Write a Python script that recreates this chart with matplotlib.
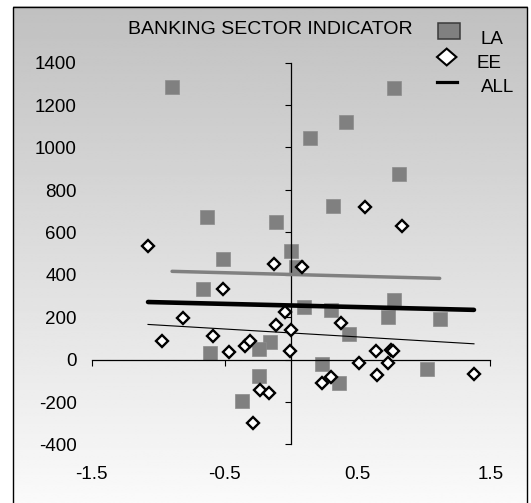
import numpy as np
import matplotlib
matplotlib.use("Agg")
import matplotlib.pyplot as plt
from matplotlib.patches import Rectangle, Polygon
from matplotlib.lines import Line2D
from matplotlib.transforms import blended_transform_factory, ScaledTranslation

# ---- data -------------------------------------------------------------
la_x = [-0.895, 0.775, 0.412, 0.141, 0.813, 0.316, -0.629, -0.115, 0.000,
        -0.512, 0.035, -0.664, 0.775, 0.096, 0.304, 0.733, 1.119, 0.439,
        -0.155, -0.243, -0.606, 0.231, 1.021, -0.241, 0.359, -0.371]
la_y = [1285, 1281, 1118, 1046, 873, 722, 670, 648, 513,
        474, 437, 331, 280, 246, 233, 202, 189, 119,
        81, 49, 29, -20, -46, -76, -111, -196]

ee_x = [-1.076, -0.125, -0.514, -0.810, -0.042, -0.971, -0.589, -0.115, 0.003,
        -0.469, -0.343, -0.309, -0.010, -0.236, -0.168, -0.286, 0.086, 0.555,
        0.835, 0.374, 0.640, 0.750, 0.768, 0.512, 0.730, 0.647, 0.299, 0.233,
        1.377]
ee_y = [535, 449, 332, 194, 224, 86, 112, 161, 141,
        35, 64, 89, 40, -144, -160, -301, 435, 721,
        628, 172, 39, 45, 40, -18, -18, -73, -81, -112,
        -67]

x_ticks = [-1.5, -0.5, 0.5, 1.5]
x_tick_labels = ["-1.5", "-0.5", "0.5", "1.5"]
y_ticks = list(range(-400, 1401, 200))
y_tick_labels = [str(v) for v in y_ticks]
title = "BANKING SECTOR INDICATOR"
series_names = ["LA", "EE", "ALL"]

# ---- style ------------------------------------------------------------
plt.rcParams['font.family'] = ['Liberation Sans', 'DejaVu Sans']
FS = 13.5
LA_GRAY = '#808080'

W, H, DPI = 531, 503, 100
fig = plt.figure(figsize=(W / DPI, H / DPI), dpi=DPI)

# chart area: vertical grey-to-white gradient with a thin frame (pixel coords)
bg = fig.add_axes([0, 0, 1, 1], zorder=0)
grad = np.linspace(0.755, 0.985, 256).reshape(-1, 1)
bg.imshow(grad, cmap='gray', vmin=0, vmax=1, aspect='auto',
          interpolation='bilinear', extent=(12.5, 527, 512, 6.7))
bg.add_patch(Rectangle((12.5, 6.7), 514.5, 505, fill=False, ec='black', lw=1.0))
bg.set_xlim(0, W)
bg.set_ylim(H, 0)
bg.axis('off')

# plot area
L, R, T, B = 91.7, 490.3, 62.7, 444.3
ax = fig.add_axes([L / W, 1 - B / H, (R - L) / W, (B - T) / H], zorder=1)
ax.patch.set_alpha(0)
ax.set_xlim(-1.5, 1.5)
ax.set_ylim(-400, 1400)
for s in ('top', 'right'):
    ax.spines[s].set_visible(False)
ax.spines['left'].set_position(('data', 0))
ax.spines['bottom'].set_position(('data', 0))
for s in ('left', 'bottom'):
    ax.spines[s].set_linewidth(0.9)
ax.set_xticks(x_ticks)
ax.set_yticks(y_ticks)
ax.tick_params(direction='out', length=4.3, width=0.8,
               labelbottom=False, labelleft=False)

# tick labels sit at the outer edges of the plot area
ytrans = blended_transform_factory(fig.transFigure, ax.transData) + \
    ScaledTranslation(0, -6.7 / DPI, fig.dpi_scale_trans)
for v, lab in zip(y_ticks, y_tick_labels):
    fig.text(76.7 / W, v, lab, transform=ytrans, ha='right', va='baseline',
             fontsize=FS)
xtrans = blended_transform_factory(ax.transData, fig.transFigure)
for v, lab in zip(x_ticks, x_tick_labels):
    fig.text(v, 1 - 479.4 / H, lab, transform=xtrans, ha='center',
             va='baseline', fontsize=FS)

# scatter series
ax.plot(la_x, la_y, ls='none', marker='s', ms=10, mfc=LA_GRAY, mec='#8c8c8c',
        mew=0.5, zorder=2, clip_on=False)
ax.plot(ee_x, ee_y, ls='none', marker='D', ms=6.3, mfc='white', mec='black',
        mew=1.7, zorder=4, clip_on=False)

# linear trend lines over each series' x range
def trend(xs, ys):
    xs = np.asarray(xs, float)
    ys = np.asarray(ys, float)
    k, b = np.polyfit(xs, ys, 1)
    xe = np.array([xs.min(), xs.max()])
    return xe, k * xe + b

all_x = la_x + ee_x
all_y = la_y + ee_y
xe, ye = trend(la_x, la_y)
ax.plot(xe, ye, color=LA_GRAY, lw=2.5, solid_capstyle='round', zorder=3)
xe, ye = trend(ee_x, ee_y)
ax.plot(xe, ye, color='black', lw=0.8, zorder=3)
xe, ye = trend(all_x, all_y)
ax.plot(xe, ye, color='black', lw=3.3, solid_capstyle='round', zorder=3)

# title and legend (pixel coords)
top = fig.add_axes([0, 0, 1, 1], zorder=5)
top.set_xlim(0, W)
top.set_ylim(H, 0)
top.axis('off')
top.text(270, 34.3, title, ha='center', va='baseline', fontsize=14)

top.add_patch(Rectangle((438.3, 22.7), 21.7, 16.6, fc=LA_GRAY, ec='#3a3a3a', lw=1.1))
top.add_patch(Polygon([(446.7, 48.6), (456.4, 57), (446.7, 65.4), (437.0, 57)],
                      closed=True, fc='white', ec='black', lw=1.5))
top.add_line(Line2D([437.3, 457.3], [81.7, 81.7], color='black', lw=2.3))
top.text(481, 44.0, series_names[0], ha='left', va='baseline', fontsize=FS)
top.text(476.7, 67.7, series_names[1], ha='left', va='baseline', fontsize=FS)
top.text(481, 91.7, series_names[2], ha='left', va='baseline', fontsize=FS)

fig.savefig('out.png', dpi=DPI)
